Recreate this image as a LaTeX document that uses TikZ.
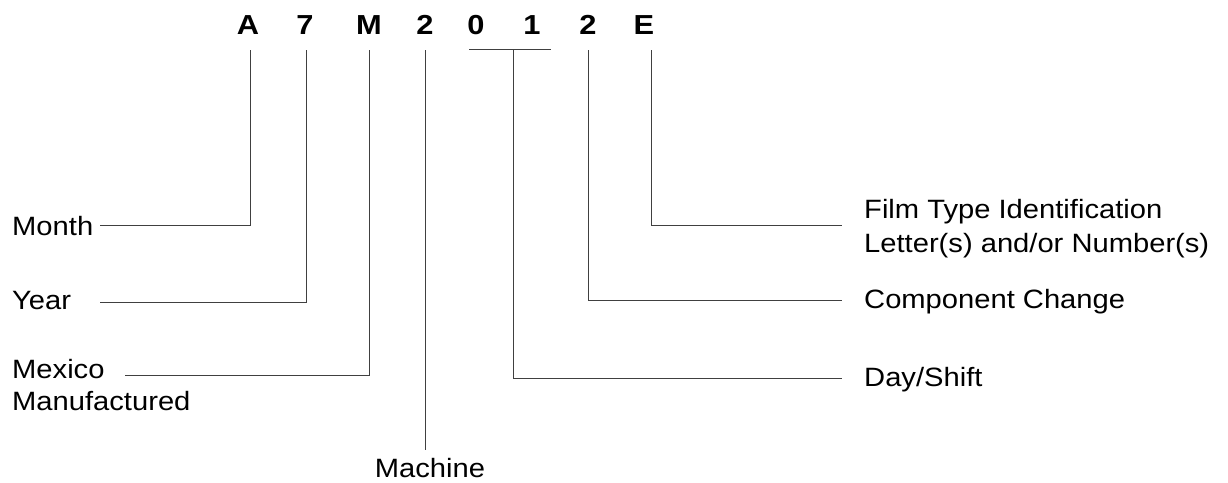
\documentclass[tikz,border=0pt]{standalone}
\usepackage{fontspec}
\newfontfamily\lblfont[FakeStretch=1.1]{Liberation Sans}
\newfontfamily\codefont[FakeStretch=1.12]{Liberation Sans Bold}
\begin{document}
\begin{tikzpicture}[x=1pt,y=-1pt,
  codechar/.style={inner sep=0pt,anchor=base,font=\codefont\fontsize{27.5}{32}\selectfont},
  lbl/.style={inner sep=0pt,anchor=base west,font=\lblfont\fontsize{26.5}{31}\selectfont},
  lead/.style={line width=0.9pt,draw=black!75}]
\useasboundingbox (0,0) rectangle (1228,482);

% code characters
\node[codechar] (cA)  at (248,34) {A};
\node[codechar] (c7)  at (305,34) {7};
\node[codechar] (cM)  at (369,34) {M};
\node[codechar] (c2)  at (425,34) {2};
\node[codechar] (c0)  at (476,34) {0};
\node[codechar] (c1)  at (532,34) {1};
\node[codechar] (c2b) at (588,34) {2};
\node[codechar] (cE)  at (644,34) {E};

% tops of the leader lines
\coordinate (tA)  at (250,50);
\coordinate (t7)  at (306,50);
\coordinate (tM)  at (369,50);
\coordinate (t2)  at (425,50);
\coordinate (t2b) at (588,50);
\coordinate (tE)  at (651,50);
\coordinate (bl)  at (469,49);
\coordinate (br)  at (551,49);
\coordinate (tDS) at (513,49);

% left-hand labels
\node[lbl] (month) at (12,235) {Month};
\node[lbl] (year)  at (12,309) {Year};
\node[lbl] (mex)   at (12,378) {Mexico};
\node[lbl] (manu)  at (12,410) {Manufactured};
\node[inner sep=0pt,anchor=base,font=\lblfont\fontsize{26.5}{31}\selectfont] (mach) at (430,477) {Machine};

% right-hand labels
\node[lbl] (film)  at (864,218) {Film Type Identification};
\node[lbl] (lett)  at (864,252) {Letter(s) and/or Number(s)};
\node[lbl] (comp)  at (864,308) {Component Change};
\node[lbl] (day)   at (864,386) {Day/Shift};

% free ends of the leaders
\coordinate (eMonth) at (100,225);
\coordinate (eYear)  at (100,302);
\coordinate (eMex)   at (125,375);
\coordinate (eMach)  at (425,450);
\coordinate (eFilm)  at (842,225);
\coordinate (eComp)  at (842,300);
\coordinate (eDay)   at (842,378);

% leaders
\draw[lead] (tA) |- (eMonth);
\draw[lead] (t7) |- (eYear);
\draw[lead] (tM) |- (eMex);
\draw[lead] (t2) -- (eMach);
\draw[lead] (bl) -- (br);
\draw[lead] (tDS) |- (eDay);
\draw[lead] (t2b) |- (eComp);
\draw[lead] (tE) |- (eFilm);
\end{tikzpicture}
\end{document}
